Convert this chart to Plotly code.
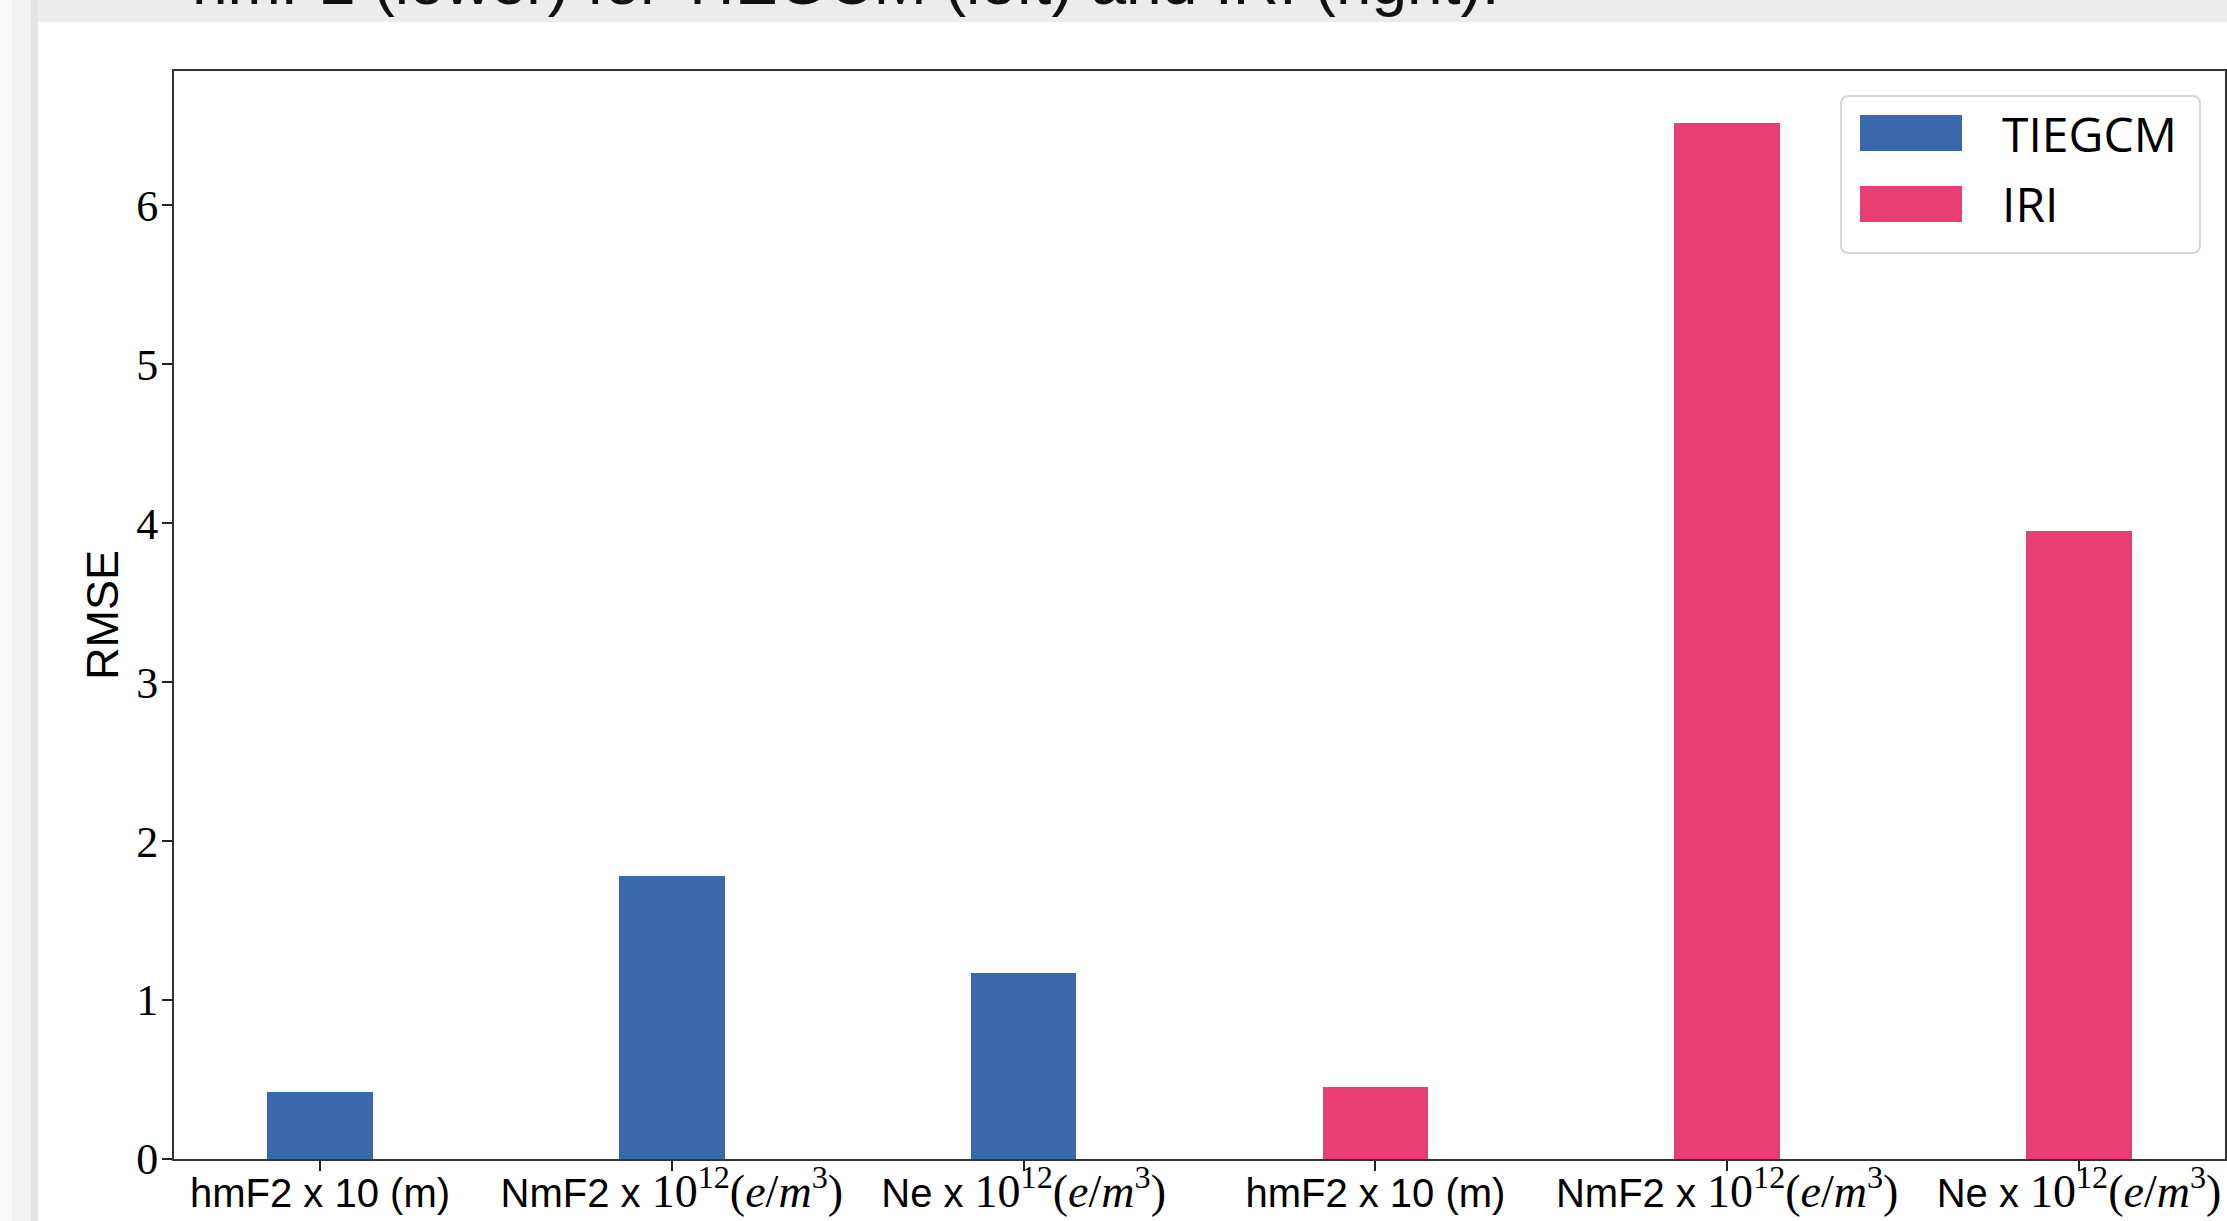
import plotly.graph_objects as go

# ---- data ----
MATH = "<span style=\"font-family:'Liberation Serif';font-size:46px\">10<sup>12</sup>(<i>e</i>/<i>m</i><sup>3</sup>)</span>"
categories = [
    "hmF2 x 10 (m)",
    "NmF2 x " + MATH,
    "Ne x " + MATH,
    "hmF2 x 10 (m)",
    "NmF2 x " + MATH,
    "Ne x " + MATH,
]
tiegcm_x = [0, 1, 2]
tiegcm_rmse = [0.42, 1.78, 1.17]
iri_x = [3, 4, 5]
iri_rmse = [0.455, 6.52, 3.95]
series_names = ["TIEGCM", "IRI"]
series_colors = ["#3969AC", "#E73F74"]
yticks = [0, 1, 2, 3, 4, 5, 6]
caption = "hmF2 (lower) for TIEGCM (left) and IRI (right)."

W, H = 2227, 1221
L, R, T, B = 174, 2, 71, 62
PW, PH = W - L - R, H - T - B


def px(x):
    return (x - L) / PW


def py(y):
    return (H - B - y) / PH


fig = go.Figure()
fig.add_trace(go.Bar(x=tiegcm_x, y=tiegcm_rmse, width=0.3, name=series_names[0],
                     marker=dict(color=series_colors[0], line=dict(width=0)),
                     showlegend=False))
fig.add_trace(go.Bar(x=iri_x, y=iri_rmse, width=0.3, name=series_names[1],
                     marker=dict(color=series_colors[1], line=dict(width=0)),
                     showlegend=False))

shapes = []
# page chrome: left strip and top band
for x0, x1, c in [(0, 12, "#f9f9f9"), (12, 31, "#f2f2f2"), (31, 38, "#e3e3e3")]:
    shapes.append(dict(type="rect", xref="paper", yref="paper", x0=px(x0), x1=px(x1),
                       y0=py(H + 5), y1=py(-5), fillcolor=c, line=dict(width=0), layer="below"))
shapes.append(dict(type="rect", xref="paper", yref="paper", x0=px(38), x1=px(W + 5),
                   y0=py(22), y1=py(-5), fillcolor="#ececec", line=dict(width=0), layer="below"))

# legend box (rounded)
lx0, lx1, ly0, ly1, r = 1841, 2200, 96, 253, 8
path = (f"M {px(lx0 + r)},{py(ly0)} L {px(lx1 - r)},{py(ly0)} Q {px(lx1)},{py(ly0)} {px(lx1)},{py(ly0 + r)} "
        f"L {px(lx1)},{py(ly1 - r)} Q {px(lx1)},{py(ly1)} {px(lx1 - r)},{py(ly1)} "
        f"L {px(lx0 + r)},{py(ly1)} Q {px(lx0)},{py(ly1)} {px(lx0)},{py(ly1 - r)} "
        f"L {px(lx0)},{py(ly0 + r)} Q {px(lx0)},{py(ly0)} {px(lx0 + r)},{py(ly0)} Z")
shapes.append(dict(type="path", xref="paper", yref="paper", path=path,
                   fillcolor="rgba(255,255,255,0.8)", line=dict(color="#d6d6d6", width=2), layer="above"))
annotations = []
for i, (nm, col) in enumerate(zip(series_names, series_colors)):
    yc = 133 + i * 71
    shapes.append(dict(type="rect", xref="paper", yref="paper", x0=px(1860), x1=px(1962),
                       y0=py(yc - 18), y1=py(yc + 18), fillcolor=col, line=dict(width=0), layer="above"))
    annotations.append(dict(xref="paper", yref="paper", x=px(2000), y=py(yc), text=nm,
                            showarrow=False, xanchor="left", yanchor="middle",
                            font=dict(family="Open Sans", size=48, color="#000")))

annotations.append(dict(xref="paper", yref="paper", x=px(190), y=py(20), text=caption,
                        showarrow=False, xanchor="left", yanchor="bottom",
                        font=dict(family="Liberation Sans", size=64, color="#111")))

fig.update_layout(
    width=W, height=H,
    margin=dict(l=L, r=R, t=T, b=B, pad=0, autoexpand=False),
    paper_bgcolor="white", plot_bgcolor="white",
    shapes=shapes, annotations=annotations,
    bargap=0,
    xaxis=dict(range=[-0.415, 5.415], tickmode="array", tickvals=list(range(len(categories))),
               ticktext=categories, ticks="outside", ticklen=10, tickwidth=1.5, tickcolor="#222",
               showline=True, mirror=True, linecolor="#333", linewidth=2, showgrid=False,
               zeroline=False, automargin=False, ticklabelstandoff=-12,
               tickfont=dict(family="Liberation Sans", size=40, color="#000")),
    yaxis=dict(range=[0, 6.846], tickmode="array", tickvals=yticks, ticktext=[str(v) for v in yticks],
               ticks="outside", ticklen=10, tickwidth=1.5, tickcolor="#222",
               showline=True, mirror=True, linecolor="#333", linewidth=2, showgrid=False,
               zeroline=False, automargin=False, ticklabelstandoff=-5,
               tickfont=dict(family="Liberation Serif", size=44, color="#000"),
               title=dict(text="RMSE", standoff=3,
                          font=dict(family="Liberation Sans", size=45, color="#000"))),
)

fig.write_html("out.html", config={"displayModeBar": False},
               post_script="document.body.style.margin='0';document.body.style.overflow='hidden';")
